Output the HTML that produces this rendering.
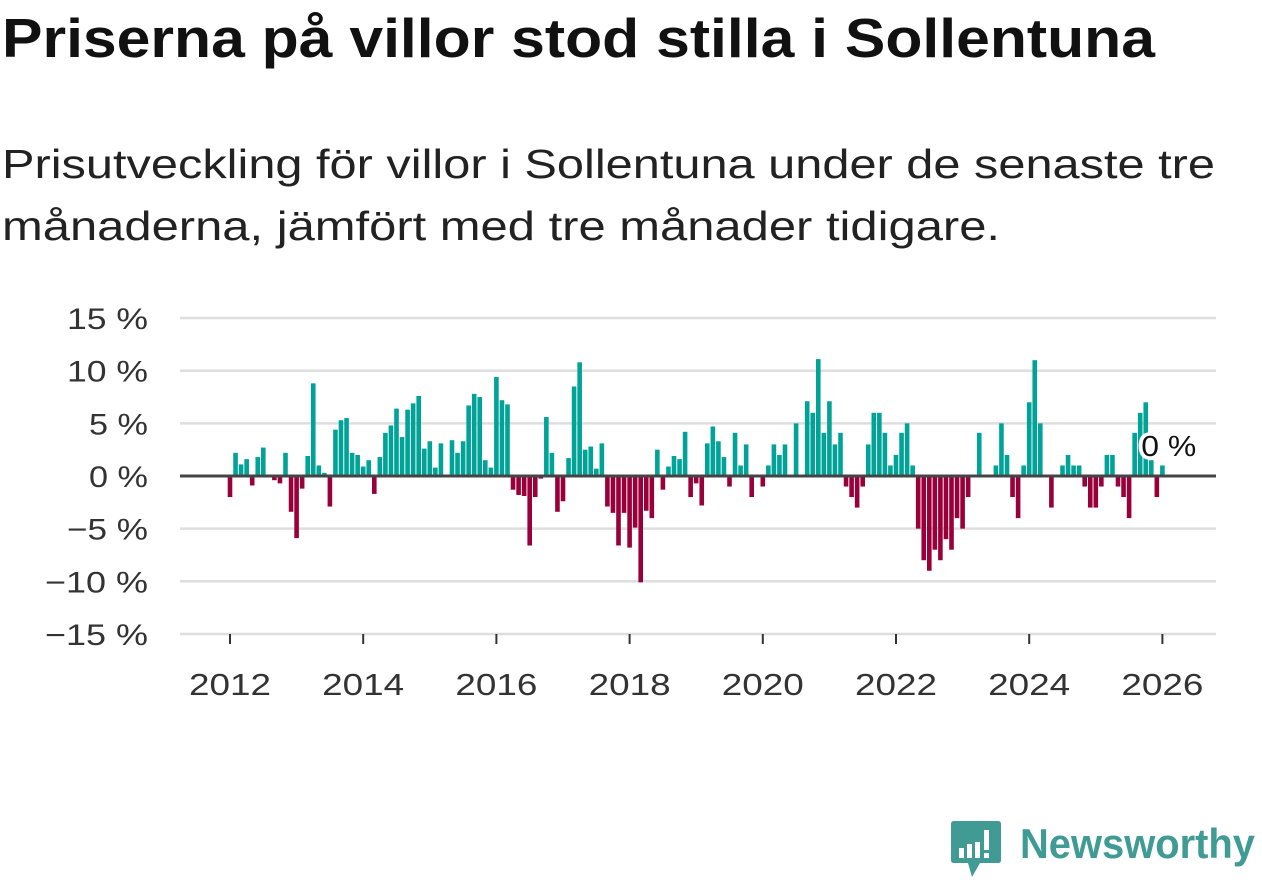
<!DOCTYPE html>
<html><head><meta charset="utf-8">
<style>
body{margin:0;width:1262px;height:879px;background:#fff;overflow:hidden;font-family:"Liberation Sans",sans-serif;}
.fit{position:absolute;white-space:nowrap;transform-origin:0 0;}
svg{position:absolute;left:0;top:0;}
</style></head><body>
<div class="fit" id="t1" data-w="1153" style="left:2px;top:6px;font-size:55px;font-weight:bold;color:#111;">Priserna på villor stod stilla i Sollentuna</div>
<div class="fit" id="s1" data-w="1213" style="left:2px;top:141px;font-size:41px;color:#222;">Prisutveckling för villor i Sollentuna under de senaste tre</div>
<div class="fit" id="s2" data-w="998" style="left:2px;top:203px;font-size:41px;color:#222;">månaderna, jämfört med tre månader tidigare.</div>
<svg id="chart" width="1262" height="879"></svg>
<div style="position:absolute;left:950px;top:820px;width:310px;height:60px;">
<svg width="52" height="58" style="left:0;top:0">
<path d="M4 1 H48 Q51 1 51 4 V40 Q51 43 48 43 H30 L22 57 L18 43 H4 Q1 43 1 40 V4 Q1 1 4 1 Z" fill="#3f9b94"/>
<rect x="9" y="28" width="5" height="10" fill="#fff"/><rect x="17" y="24" width="5" height="14" fill="#fff"/><rect x="25" y="22" width="5" height="16" fill="#fff"/><rect x="34" y="10" width="5" height="20" fill="#fff"/><rect x="34" y="33" width="5" height="5" fill="#fff"/>
</svg>
<span class="fit" id="lg" data-w="235" style="left:70px;top:0px;font-size:42px;font-weight:bold;color:#3f9b94;">Newsworthy</span>
</div>
<script>
const years=[2012,2014,2016,2018,2020,2022,2024,2026];
const yTicks=[15,10,5,0,-5,-10,-15];
const yTickLabels=["15 %","10 %","5 %","0 %","−5 %","−10 %","−15 %"];
const values2012=[-2.0,2.2,1.1,1.6,-0.9,1.8,2.7,0,-0.4,-0.7,2.2,-3.4];
const values2013=[-5.9,-1.2,1.9,8.8,1.0,0.3,-2.9,4.4,5.3,5.5,2.2,2.0];
const values2014=[0.9,1.5,-1.7,1.8,4.1,4.8,6.4,3.7,6.3,6.9,7.6,2.6];
const values2015=[3.3,0.8,3.1,0,3.4,2.2,3.3,6.7,7.8,7.5,1.5,0.8];
const values2016=[9.4,7.2,6.8,-1.3,-1.8,-1.9,-6.6,-2.0,-0.25,5.6,2.2,-3.4];
const values2017=[-2.4,1.7,8.5,10.8,2.5,2.8,0.7,3.1,-2.9,-3.5,-6.6,-3.5];
const values2018=[-6.8,-4.9,-10.1,-3.3,-4.0,2.5,-1.3,0.9,1.9,1.6,4.2,-2.0];
const values2019=[-0.7,-2.8,3.1,4.7,3.3,1.8,-1.0,4.1,1.0,3.0,-2.0,0];
const values2020=[-1.0,1.0,3.0,2.0,3.0,0,5.0,0,7.1,6.0,11.1,4.1];
const values2021=[7.1,3.0,4.1,-1.0,-2.0,-3.0,-1.0,3.0,6.0,6.0,4.1,1.0];
const values2022=[2.0,4.1,5.0,1.0,-5.0,-8.0,-9.0,-7.0,-8.0,-6.0,-7.0,-4.0];
const values2023=[-5.0,-2.0,0,4.1,0,0,1.0,5.0,2.0,-2.0,-4.0,1.0];
const values2024=[7.0,11.0,5.0,0,-3.0,0,1.0,2.0,1.0,1.0,-1.0,-3.0];
const values2025=[-3.0,-1.0,2.0,2.0,-1.0,-2.0,-4.0,4.1,6.0,7.0,1.5,-2.0];
const values2026=[1.0];
const values=[].concat(values2012,values2013,values2014,values2015,values2016,values2017,values2018,values2019,values2020,values2021,values2022,values2023,values2024,values2025,values2026);
const lastLabel="0 %";

document.querySelectorAll('.fit').forEach(el=>{
  const w=el.getBoundingClientRect().width;const t=+el.getAttribute('data-w');
  el.style.transform='scaleX('+(t/w)+')';
});

const NS="http://www.w3.org/2000/svg";
const svg=document.getElementById('chart');
const X0=230,PXY=66.6,Y0=476,PXP=10.53,L=180,R=1216;
function xScale(monthIndex){return X0+monthIndex*PXY/12;}
function yScale(v){return Y0-v*PXP;}
function mk(t,a){const e=document.createElementNS(NS,t);for(const k in a)e.setAttribute(k,a[k]);svg.appendChild(e);return e;}
function fitText(el,w){const bw=el.getComputedTextLength();el.setAttribute('transform-origin','0 0');return bw;}
yTicks.forEach((t,i)=>{
  if(t!==0){const g=mk('line',{x1:L,x2:R,y1:yScale(t),y2:yScale(t),stroke:'#dedede','stroke-width':2.5});
  
  }
  const tx=mk('text',{x:148,y:yScale(t)+11,'text-anchor':'end','font-size':30,fill:'#333','font-family':'Liberation Sans, sans-serif'});
  tx.textContent=yTickLabels[i];
  
  
  const len=yTickLabels[i].length;
  tx.setAttribute('textLength',(yTickLabels[i].startsWith('−')?22:0)+(len-(yTickLabels[i].startsWith('−')?3:2))*22+37);
  tx.setAttribute('lengthAdjust','spacingAndGlyphs');
});
years.forEach(y=>{
  const x=xScale((y-2012)*12);
  const tk=mk('line',{x1:x,x2:x,y1:634,y2:644,stroke:'#333','stroke-width':2});
  
  
  const tx=mk('text',{x:x,y:695,'text-anchor':'middle','font-size':31,fill:'#333','font-family':'Liberation Sans, sans-serif',textLength:82,lengthAdjust:'spacingAndGlyphs'});
  tx.textContent=y;
  
  
});
values.forEach((v,i)=>{
  if(v===0)return;
  const x=xScale(i);
  const y=v>0?yScale(v):Y0;
  const b=mk('rect',{x:x-2.3,y:y,width:4.6,height:Math.abs(v)*PXP,fill:v>0?'#00a398':'#99003a'});
  
  
});
const zl=mk('line',{x1:L,x2:R,y1:Y0,y2:Y0,stroke:'#444','stroke-width':3});


const lx=xScale(values.length-3)-10;
const lb=mk('text',{x:lx,y:456,'font-size':29,fill:'#111',stroke:'#fff','stroke-width':7,'paint-order':'stroke','stroke-linejoin':'round','font-family':'Liberation Sans, sans-serif',textLength:55,lengthAdjust:'spacingAndGlyphs'});
lb.textContent=lastLabel;


</script>
</body></html>
